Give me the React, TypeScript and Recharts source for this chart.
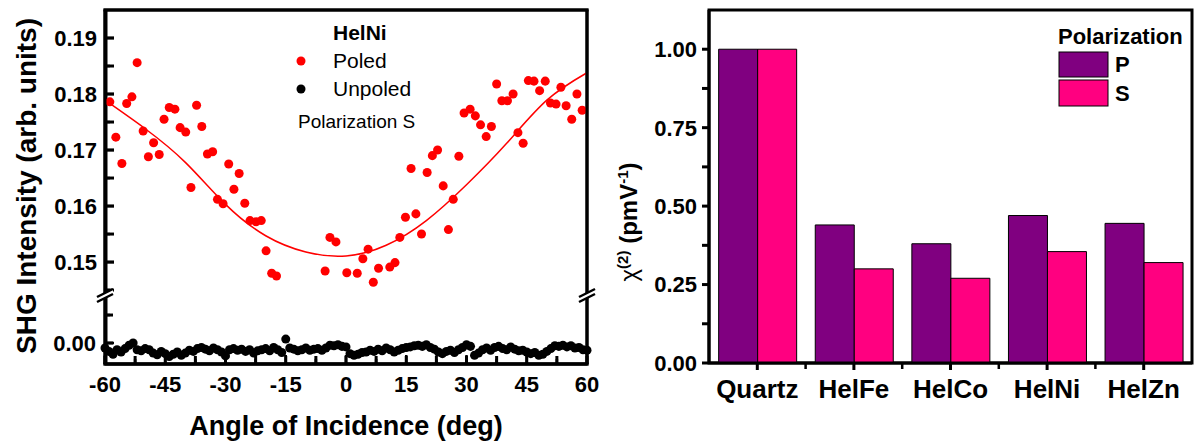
import React from 'react';
import { ComposedChart, Scatter, Line, XAxis, YAxis, ZAxis, BarChart, Bar, ReferenceArea } from 'recharts';

const FONT = '"Liberation Sans", Arial, Helvetica, sans-serif';
const RED = '#FF0000';
const PURPLE = '#800080';
const PINK = '#FF0080';

// ---- left panel: HelNi, polarization S ----
const poledAngle = [
  -58.8, -57.3, -55.8, -54.6, -53.3, -52.0, -50.5, -49.2, -47.9, -46.5,
  -45.3, -44.0, -42.6, -41.3, -39.9, -38.6, -37.2, -35.9, -34.5, -33.2,
  -32.0, -30.6, -29.2, -27.9, -26.6, -25.2, -23.9, -22.4, -21.1, -19.9,
  -18.5, -17.3, -5.2, -4.0, -2.5, 0.2, 2.8, 4.2, 5.5, 6.8,
  8.1, 10.9, 12.2, 13.4, 14.8, 16.2, 17.4, 18.8, 20.2, 21.5,
  22.8, 24.2, 25.5, 26.7, 28.1, 29.4, 30.9, 32.2, 33.5, 34.9,
  36.2, 37.5, 38.8, 40.2, 41.6, 42.8, 44.1, 45.4, 46.8, 48.2,
  49.6, 50.9, 52.3, 53.5, 54.8, 56.2, 57.5, 58.8,
];
const poledShg = [
  0.1786, 0.1723, 0.1676, 0.1783, 0.1795, 0.1856, 0.1734, 0.1688, 0.1713, 0.1692,
  0.1755, 0.1776, 0.1773, 0.1740, 0.1732, 0.1633, 0.1780, 0.1742, 0.1693, 0.1697,
  0.1612, 0.1604, 0.1675, 0.1630, 0.1658, 0.1605, 0.1574, 0.1572, 0.1574, 0.1520,
  0.1480, 0.1475, 0.1484, 0.1544, 0.1536, 0.1481, 0.1480, 0.1506, 0.1523, 0.1464,
  0.1489, 0.1491, 0.1499, 0.1544, 0.1580, 0.1667, 0.1586, 0.1550, 0.1660, 0.1690,
  0.1700, 0.1636, 0.1558, 0.1612, 0.1689, 0.1766, 0.1773, 0.1761, 0.1745, 0.1724,
  0.1742, 0.1818, 0.1788, 0.1788, 0.1800, 0.1731, 0.1712, 0.1824, 0.1823, 0.1806,
  0.1823, 0.1784, 0.1782, 0.1812, 0.1779, 0.1755, 0.1800, 0.1771,
];
// fitted curve, every 10 deg
const fitAngle = [-60, -50, -40, -30, -20, -10, 0, 10, 20, 30, 40, 50, 60];
const fitShg = [0.1789, 0.1738, 0.1678, 0.1603, 0.1547, 0.1518, 0.1511, 0.1530, 0.1574, 0.1638, 0.1712, 0.1789, 0.1838];
// unpoled reference, measured every 1 deg from -60 to 60
const UNPOLED_START = -60;
const UNPOLED_STEP = 1;
const unpoledShg = [
  -0.0009, -0.0015, -0.0020, -0.0012, -0.0016, -0.0010, -0.0004, 0.0000, -0.0012, -0.0014,
  -0.0010, -0.0012, -0.0018, -0.0021, -0.0015, -0.0019, -0.0024, -0.0020, -0.0016, -0.0022,
  -0.0018, -0.0013, -0.0015, -0.0010, -0.0008, -0.0011, -0.0014, -0.0009, -0.0012, -0.0016,
  -0.0023, -0.0012, -0.0010, -0.0013, -0.0011, -0.0015, -0.0012, -0.0018, -0.0014, -0.0012,
  -0.0010, -0.0014, -0.0008, -0.0012, -0.0017, 0.0007, -0.0009, -0.0011, -0.0014, -0.0012,
  -0.0009, -0.0013, -0.0011, -0.0010, -0.0013, -0.0009, -0.0004, -0.0005, -0.0003, -0.0006,
  -0.0007, -0.0019, -0.0022, -0.0020, -0.0017, -0.0016, -0.0013, -0.0015, -0.0011, -0.0014,
  -0.0009, -0.0012, -0.0016, -0.0013, -0.0010, -0.0008, -0.0007, -0.0005, -0.0004, -0.0006,
  -0.0003, -0.0008, -0.0011, -0.0016, -0.0019, -0.0015, -0.0013, -0.0017, -0.0012, -0.0008,
  -0.0003, -0.0006, -0.0022, -0.0018, -0.0012, -0.0009, -0.0013, -0.0008, -0.0006, -0.0010,
  -0.0012, -0.0007, -0.0011, -0.0014, -0.0013, -0.0016, -0.0019, -0.0017, -0.0022, -0.0020,
  -0.0015, -0.0010, -0.0005, -0.0006, -0.0004, -0.0007, -0.0005, -0.0009, -0.0008, -0.0012,
  -0.0013,
];
const angleTicks = [-60, -52.5, -45, -37.5, -30, -22.5, -15, -7.5, 0, 7.5, 15, 22.5, 30, 37.5, 45, 52.5, 60];
const upperTicks = [0.145, 0.15, 0.155, 0.16, 0.165, 0.17, 0.175, 0.18, 0.185, 0.19];
const lowerTicks = [0, 0.005];
// broken y axis: both segments share one pixel scale, each axis only labels its own part
const ANGLE_DOMAIN = [-60, 60];
const UPPER_DOMAIN = [0.1318, 0.195];
const LOWER_DOMAIN = [-0.00375, 0.0595];

// ---- right panel: chi(2) ----
const samples = ['Quartz', 'HelFe', 'HelCo', 'HelNi', 'HelZn'];
const chiP = [1.0, 0.44, 0.38, 0.47, 0.445];
const chiS = [1.0, 0.3, 0.27, 0.355, 0.32];
const chiTicks = [0, 0.125, 0.25, 0.375, 0.5, 0.625, 0.75, 0.875, 1.0];
const CHI_MAX = 1.125;

const poled = poledAngle.map((x, i) => ({ x, y: poledShg[i] }));
const fit = fitAngle.map((x, i) => ({ x, y: fitShg[i] }));
const unpoled = unpoledShg.map((y, i) => ({ x: UNPOLED_START + i * UNPOLED_STEP, y }));
const bars = samples.map((name, i) => ({ name, P: chiP[i], S: chiS[i] }));

// left plot box (margins of the ComposedChart below)
const L = { left: 105, right: 587, top: 10, bottom: 364 };
// right plot box
const R = { left: 709, right: 1192, top: 10, bottom: 363 };
const TICK = 8;

const lin = (d: number[], r0: number, r1: number) => (v: number) => r0 + ((v - d[0]) / (d[1] - d[0])) * (r1 - r0);
const angleX = lin(ANGLE_DOMAIN, L.left, L.right);
const upperY = lin(UPPER_DOMAIN, L.bottom, L.top);
const lowerY = lin(LOWER_DOMAIN, L.bottom, L.top);

const onGrid = (v: number, step: number) => Math.abs(v / step - Math.round(v / step)) < 1e-6;
const tickText = { fontSize: 22, fontWeight: 'bold' as const, fontFamily: FONT, fill: '#000' };

// mirrored (inward) y axis: label anchor sits TICK px inside the plot
const MirrorYLabel = (props: any) => {
  const { x, y, payload } = props;
  if (!onGrid(payload.value, 0.01)) return <g />;
  return (
    <text x={x - TICK - 9} y={y} dy="0.36em" textAnchor="end" {...tickText}>
      {payload.value.toFixed(2)}
    </text>
  );
};

// mirrored (inward) x axis
const AngleLabel = (props: any) => {
  const { x, y, payload } = props;
  if (!onGrid(payload.value, 15)) return <g />;
  return (
    <text x={x} y={y + TICK + 28} textAnchor="middle" {...tickText}>
      {payload.value}
    </text>
  );
};

const ChiLabel = (props: any) => {
  const { x, y, payload } = props;
  if (!onGrid(payload.value, 0.25)) return <g />;
  return (
    <text x={x - 5} y={y} dy="0.36em" textAnchor="end" {...tickText}>
      {payload.value.toFixed(2)}
    </text>
  );
};

const SampleLabel = (props: any) => {
  const { x, y, payload } = props;
  return (
    <text x={x} y={y + 28} textAnchor="middle" {...tickText} fontSize={26}>
      {payload.value}
    </text>
  );
};

const AxisBreak = ({ x, y }: { x: number; y: number }) => (
  <g>
    <polygon points={`${x - 8},${y + 3} ${x + 8},${y - 5} ${x + 8},${y} ${x - 8},${y + 8}`} fill="#fff" />
    <line x1={x - 8} y1={y + 3} x2={x + 8} y2={y - 5} stroke="#000" strokeWidth={2.5} />
    <line x1={x - 8} y1={y + 8} x2={x + 8} y2={y} stroke="#000" strokeWidth={2.5} />
  </g>
);

// filled bars instead of stroked lines for the frame pieces
const HBar = ({ x0, x1, y, w = 3 }: { x0: number; x1: number; y: number; w?: number }) => (
  <rect x={Math.min(x0, x1)} y={y - w / 2} width={Math.abs(x1 - x0)} height={w} fill="#000" />
);
const VBar = ({ x, y0, y1, w = 3 }: { x: number; y0: number; y1: number; w?: number }) => (
  <rect x={x - w / 2} y={Math.min(y0, y1)} width={w} height={Math.abs(y1 - y0)} fill="#000" />
);

export default function App() {
  const catW = (R.right - R.left) / samples.length;
  return (
    <div style={{ position: 'absolute', left: 0, top: 0, width: 1196, height: 445, background: '#fff', fontFamily: FONT }}>
      {/* SHG vs angle, broken y axis */}
      <div style={{ position: 'absolute', left: 0, top: 0 }}>
        <ComposedChart width={600} height={445} margin={{ top: L.top, right: 600 - L.right, bottom: 445 - L.bottom, left: L.left }}>
          <XAxis
            dataKey="x"
            type="number"
            domain={ANGLE_DOMAIN}
            ticks={angleTicks}
            interval={0}
            mirror
            tickSize={TICK}
            tickMargin={0}
            tick={AngleLabel}
            stroke="#000"
            strokeWidth={3}
          />
          <YAxis
            yAxisId="upper"
            dataKey="y"
            type="number"
            domain={UPPER_DOMAIN}
            ticks={upperTicks}
            interval={0}
            mirror
            width={1}
            tickSize={TICK}
            tickMargin={0}
            tick={MirrorYLabel}
            stroke="#000"
            strokeWidth={3}
          />
          <YAxis
            yAxisId="lower"
            dataKey="y"
            type="number"
            domain={LOWER_DOMAIN}
            ticks={lowerTicks}
            interval={0}
            mirror
            width={1}
            tickSize={TICK}
            tickMargin={0}
            tick={MirrorYLabel}
            axisLine={false}
            stroke="#000"
            strokeWidth={3}
          />
          <ZAxis zAxisId="poled" range={[80, 80]} />
          <ZAxis zAxisId="unpoled" range={[50, 50]} />
          <ReferenceArea yAxisId="upper" y1={UPPER_DOMAIN[0]} y2={UPPER_DOMAIN[1]} fill="none" fillOpacity={0} stroke="#000" strokeWidth={3} />
          <Scatter yAxisId="upper" zAxisId="poled" data={poled} fill={RED} isAnimationActive={false} />
          <Scatter yAxisId="lower" zAxisId="unpoled" data={unpoled} fill="#000" isAnimationActive={false} />
          <Line yAxisId="upper" data={fit} dataKey="y" type="natural" stroke={RED} strokeWidth={1.5} dot={false} isAnimationActive={false} />
        </ComposedChart>
      </div>

      {/* chi(2) bar chart */}
      <div style={{ position: 'absolute', left: 600, top: 0 }}>
        <BarChart
          width={596}
          height={445}
          data={bars}
          margin={{ top: R.top, right: 4, bottom: 0, left: 0 }}
          barCategoryGap="10%"
          barGap={0}
        >
          <XAxis dataKey="name" height={82} interval={0} tickSize={7} tickMargin={0} tick={SampleLabel} stroke="#000" strokeWidth={3} />
          <YAxis
            type="number"
            domain={[0, CHI_MAX]}
            ticks={chiTicks}
            interval={0}
            width={109}
            tickSize={7}
            tickMargin={0}
            tick={ChiLabel}
            stroke="#000"
            strokeWidth={3}
          />
          <ReferenceArea y1={0} y2={CHI_MAX} fill="none" fillOpacity={0} stroke="#000" strokeWidth={3} />
          <Bar dataKey="P" fill={PURPLE} stroke="#000" strokeWidth={1} isAnimationActive={false} />
          <Bar dataKey="S" fill={PINK} stroke="#000" strokeWidth={1} isAnimationActive={false} />
        </BarChart>
      </div>

      {/* frame, tick marks, titles, legends and axis breaks */}
      <svg width={1196} height={445} style={{ position: 'absolute', left: 0, top: 0, pointerEvents: 'none' }}>
        {/* left panel frame and inward ticks */}
        <HBar x0={L.left - 1.5} x1={L.right + 1.5} y={L.top} />
        <HBar x0={L.left - 1.5} x1={L.right + 1.5} y={L.bottom} />
        <VBar x={L.left} y0={L.top} y1={L.bottom} />
        <VBar x={L.right} y0={L.top} y1={L.bottom} />
        {upperTicks.map((v) => (
          <HBar key={`u${v}`} x0={L.left} x1={L.left + (onGrid(v, 0.01) ? 9 : 5)} y={upperY(v)} w={2.5} />
        ))}
        {lowerTicks.map((v) => (
          <HBar key={`l${v}`} x0={L.left} x1={L.left + (onGrid(v, 0.01) ? 9 : 5)} y={lowerY(v)} w={2.5} />
        ))}
        {angleTicks.map((a) => (
          <VBar key={`a${a}`} x={angleX(a)} y0={L.bottom} y1={L.bottom - (onGrid(a, 15) ? 9 : 5)} w={2.5} />
        ))}
        <AxisBreak x={L.left} y={294} />
        <AxisBreak x={L.right} y={294} />

        {/* category boundary ticks of the bar chart */}
        {samples.slice(1).map((s, i) => (
          <VBar key={s} x={R.left + catW * (i + 1)} y0={R.bottom} y1={R.bottom + 6} w={2.5} />
        ))}

        <text transform="translate(26,186) rotate(-90)" textAnchor="middle" dy="0.36em" fontSize={28} fontWeight="bold" fontFamily={FONT}>
          SHG Intensity (arb. units)
        </text>
        <text x={346} y={435} textAnchor="middle" fontSize={27} fontWeight="bold" fontFamily={FONT}>
          Angle of Incidence (deg)
        </text>

        <text x={333} y={40} fontSize={21} fontWeight="bold" fontFamily={FONT}>HelNi</text>
        <circle cx={301} cy={61} r={4.5} fill={RED} />
        <text x={333} y={68} fontSize={21} fontFamily={FONT}>Poled</text>
        <circle cx={301} cy={89} r={4.5} fill="#000" />
        <text x={333} y={96} fontSize={21} fontFamily={FONT}>Unpoled</text>
        <text x={298} y={128} fontSize={19} fontFamily={FONT}>Polarization S</text>

        <text transform="translate(628,222) rotate(-90)" textAnchor="middle" dy="0.36em" fontSize={24} fontWeight="bold" fontFamily={FONT}>
          <tspan fontWeight="normal">χ</tspan>
          <tspan dy={-9} fontSize={15}>(2)</tspan>
          <tspan dy={9}> (pmV</tspan>
          <tspan dy={-9} fontSize={15}>-1</tspan>
          <tspan dy={9}>)</tspan>
        </text>

        <text x={1058} y={44} fontSize={22} fontWeight="bold" fontFamily={FONT}>Polarization</text>
        <rect x={1059} y={52} width={49} height={25} fill={PURPLE} stroke="#000" strokeWidth={1} />
        <text x={1115} y={72} fontSize={22} fontWeight="bold" fontFamily={FONT}>P</text>
        <rect x={1059} y={80} width={49} height={26} fill={PINK} stroke="#000" strokeWidth={1} />
        <text x={1115} y={101} fontSize={22} fontWeight="bold" fontFamily={FONT}>S</text>
      </svg>
    </div>
  );
}
